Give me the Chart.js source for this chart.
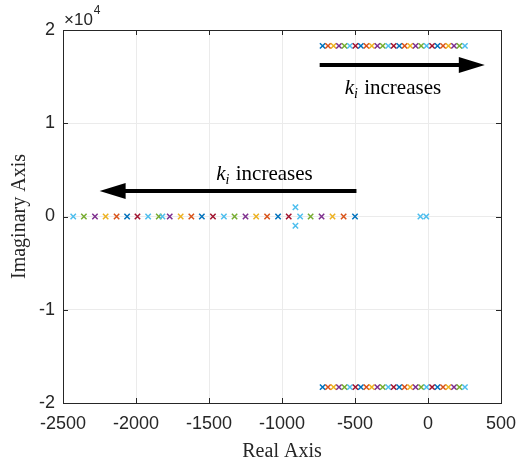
<!DOCTYPE html>
<html>
<head>
<meta charset="utf-8">
<script src="https://cdn.jsdelivr.net/npm/chart.js@4.4.0/dist/chart.umd.min.js"></script>
<style>
html,body{margin:0;padding:0;background:#fff;}
#wrap{width:519px;height:468px;position:relative;}
</style>
</head>
<body>
<div id="wrap"><canvas id="c" width="519" height="468"></canvas></div>
<script>
// ---- data ----
const realPoles = [-500, -578, -654, -729, -804, -876, -954, -1027, -1102, -1177, -1250, -1325, -1398, -1473,
  -1549, -1621, -1694, -1769, -1844, -1917, -1990, -2061, -2133, -2208, -2281, -2357, -2430];
const cplxReal = [-722, -685, -647, -610, -572, -535, -497, -460, -422, -385, -347, -310, -272, -235,
  -197, -160, -122, -85, -47, -10, 28, 65, 103, 140, 178, 215, 253];
const cplxImag = [18300, 18300, 18300, 18300, 18300, 18300, 18300, 18300, 18300, 18300, 18300, 18300, 18300, 18300,
  18300, 18300, 18300, 18300, 18300, 18300, 18300, 18300, 18300, 18300, 18300, 18300, 18300];
const extraReal = [-1819, -908, -908, -52, -12];
const extraImag = [0, 990, -990, 0, 0];
const xTicks = [-2500, -2000, -1500, -1000, -500, 0, 500];
const yTicks = [-20000, -10000, 0, 10000, 20000];
const seriesColors = ['#0072BD', '#D95319', '#EDB120', '#7E2F8E', '#77AC30', '#4DBEEE', '#A2142F'];

// annotation placement (data units)
const arrowRight = {x0: -742, x1: 389, y: 16250};
const arrowLeft = {x0: -490, x1: -2249, y: 2730};
const labelRight = {x: -240, y: 13890};
const labelLeft = {x: -1120, y: 4660};

const N = realPoles.length;
const datasets = [];
for (let i = 0; i < N; i++) {
  const pts = [
    {x: realPoles[i], y: 0},
    {x: cplxReal[i], y: cplxImag[i]},
    {x: cplxReal[i], y: -cplxImag[i]}
  ];
  if (i === N - 1) {
    for (let j = 0; j < extraReal.length; j++) pts.push({x: extraReal[j], y: extraImag[j]});
  }
  const col = seriesColors[i % seriesColors.length];
  datasets.push({
    data: pts,
    showLine: false,
    pointStyle: 'crossRot',
    pointRadius: 3.8,
    pointHoverRadius: 3.8,
    pointBorderWidth: 1.5,
    borderColor: col,
    backgroundColor: col,
    order: N - i
  });
}

const AX = '#262626';

const decor = {
  id: 'decor',
  afterDatasetsDraw(chart) {
    const {ctx, chartArea: a, scales: {x, y}} = chart;
    ctx.save();
    // inward ticks
    ctx.strokeStyle = AX; ctx.lineWidth = 1;
    ctx.beginPath();
    xTicks.forEach(v => {
      const px = Math.round(x.getPixelForValue(v)) + 0.5;
      ctx.moveTo(px, a.bottom); ctx.lineTo(px, a.bottom - 5);
      ctx.moveTo(px, a.top); ctx.lineTo(px, a.top + 5);
    });
    yTicks.forEach(v => {
      const py = Math.round(y.getPixelForValue(v)) + 0.5;
      ctx.moveTo(a.left, py); ctx.lineTo(a.left + 5, py);
      ctx.moveTo(a.right, py); ctx.lineTo(a.right - 5, py);
    });
    ctx.stroke();
    // box
    ctx.strokeRect(Math.round(a.left) + 0.5, Math.round(a.top) + 0.5, Math.round(a.right - a.left), Math.round(a.bottom - a.top));

    // arrows
    function arrow(o) {
      const px0 = x.getPixelForValue(o.x0), px1 = x.getPixelForValue(o.x1), py = y.getPixelForValue(o.y);
      const dir = Math.sign(px1 - px0);
      const headLen = 26, headHalf = 8;
      ctx.strokeStyle = '#000'; ctx.fillStyle = '#000'; ctx.lineWidth = 4;
      ctx.beginPath(); ctx.moveTo(px0, py); ctx.lineTo(px1 - dir * headLen + dir * 2, py); ctx.stroke();
      ctx.beginPath();
      ctx.moveTo(px1, py);
      ctx.lineTo(px1 - dir * headLen, py - headHalf);
      ctx.lineTo(px1 - dir * headLen, py + headHalf);
      ctx.closePath(); ctx.fill();
    }
    arrow(arrowRight);
    arrow(arrowLeft);

    function kLabel(o) {
      const cx = x.getPixelForValue(o.x), cy = y.getPixelForValue(o.y);
      const big = 'italic 21px "Liberation Serif"', sub = 'italic 14px "Liberation Serif"', reg = '21px "Liberation Serif"';
      ctx.font = big; const wk = ctx.measureText('k').width;
      ctx.font = sub; const wi = ctx.measureText('i').width;
      ctx.font = reg; const wr = ctx.measureText(' increases').width;
      let sx = cx - (wk + wi + 1 + wr) / 2;
      const base = cy + 7;
      ctx.fillStyle = '#000'; ctx.textBaseline = 'alphabetic'; ctx.textAlign = 'left';
      ctx.font = big; ctx.fillText('k', sx, base); sx += wk;
      ctx.font = sub; ctx.fillText('i', sx, base + 4); sx += wi + 1;
      ctx.font = reg; ctx.fillText(' increases', sx, base);
    }
    kLabel(labelRight);
    kLabel(labelLeft);

    // exponent label
    ctx.fillStyle = AX; ctx.textAlign = 'left'; ctx.textBaseline = 'alphabetic';
    ctx.font = '17px "Liberation Sans"';
    ctx.fillText('\u00d710', a.left + 1, 25);
    const w10 = ctx.measureText('\u00d710').width;
    ctx.font = '12px "Liberation Sans"';
    ctx.fillText('4', a.left + 1 + w10 + 1, 14);

    // axis titles
    ctx.fillStyle = AX;
    ctx.font = '20px "Liberation Serif"';
    ctx.textAlign = 'center'; ctx.textBaseline = 'middle';
    ctx.fillText('Real Axis', (a.left + a.right) / 2, 452);
    ctx.save();
    ctx.translate(20, (a.top + a.bottom) / 2);
    ctx.rotate(-Math.PI / 2);
    ctx.fillText('Imaginary Axis', 0, 0);
    ctx.restore();
    ctx.restore();
  }
};

new Chart(document.getElementById('c'), {
  type: 'scatter',
  data: {datasets},
  options: {
    responsive: false,
    animation: false,
    events: [],
    layout: {padding: {top: 30, right: 18, left: 0, bottom: 0}},
    plugins: {legend: {display: false}, tooltip: {enabled: false}, title: {display: false}},
    scales: {
      x: {
        type: 'linear', min: -2500, max: 500,
        afterBuildTicks: s => { s.ticks = xTicks.map(v => ({value: v})); },
        afterFit: s => { s.height = 65; s.paddingLeft = 0; s.paddingRight = 0; },
        grid: {color: '#ebebeb', drawTicks: false, lineWidth: 1},
        border: {display: true, color: AX},
        ticks: {color: AX, font: {family: '"Liberation Sans"', size: 18}, padding: 10, maxRotation: 0,
          callback: v => String(v)}
      },
      y: {
        type: 'linear', min: -20000, max: 20000,
        afterBuildTicks: s => { s.ticks = yTicks.map(v => ({value: v})); },
        afterFit: s => { s.width = 63; s.paddingTop = 0; s.paddingBottom = 0; },
        grid: {color: '#ebebeb', drawTicks: false, lineWidth: 1},
        border: {display: true, color: AX},
        ticks: {color: AX, font: {family: '"Liberation Sans"', size: 18}, padding: 8,
          callback: v => String(v / 10000)}
      }
    }
  },
  plugins: [decor]
});
</script>
</body>
</html>
